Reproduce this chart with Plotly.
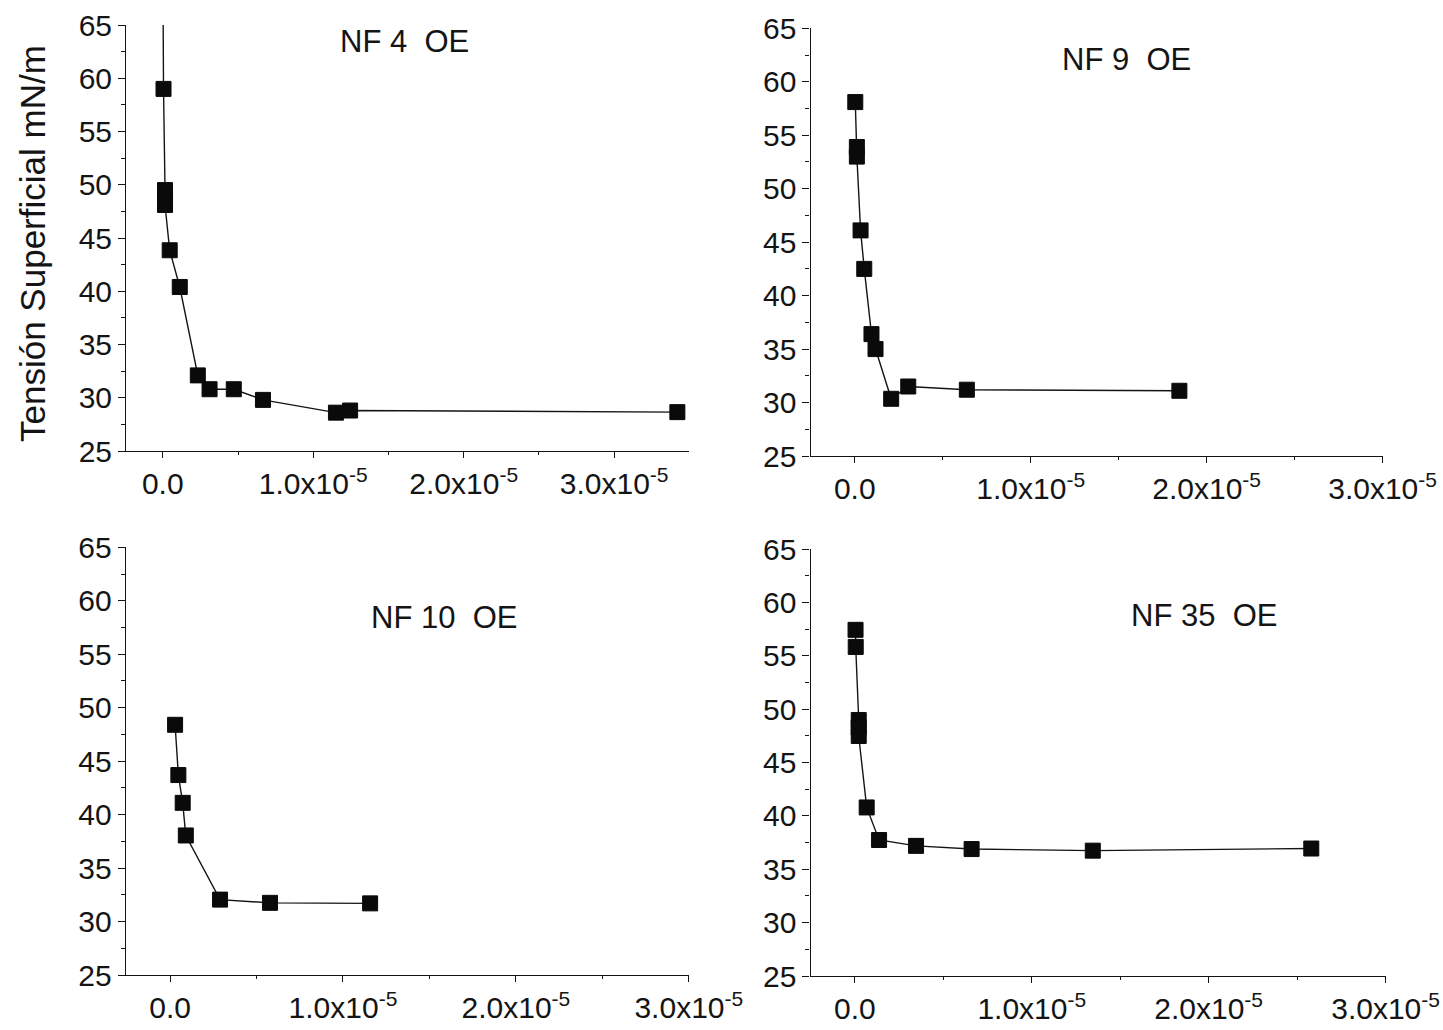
import plotly.graph_objects as go

# Concentration values are stored in units of 1e-5 (mol/L); surface tension in mN/m
UNIT = 1e-5

nf4_conc = [0.0, 0.005, 0.015, 0.015, 0.015, 0.046, 0.113, 0.233, 0.311, 0.472, 0.666, 1.151, 1.245, 3.42]
nf4_tension = [72.0, 59.0, 49.5, 48.8, 48.1, 43.85, 40.4, 32.1, 30.8, 30.8, 29.8, 28.6, 28.8, 28.65]

nf9_conc = [0.003, 0.012, 0.012, 0.033, 0.054, 0.095, 0.118, 0.207, 0.304, 0.637, 1.845]
nf9_tension = [58.1, 53.9, 53.0, 46.1, 42.5, 36.4, 35.0, 30.35, 31.5, 31.2, 31.1]

nf10_conc = [0.029, 0.048, 0.073, 0.091, 0.289, 0.578, 1.157]
nf10_tension = [48.4, 43.7, 41.1, 38.05, 32.05, 31.75, 31.7]

nf35_conc = [0.004, 0.005, 0.022, 0.022, 0.022, 0.067, 0.137, 0.346, 0.66, 1.345, 2.58]
nf35_tension = [57.45, 55.85, 49.0, 48.3, 47.5, 40.8, 37.75, 37.2, 36.9, 36.75, 36.95]

panel_titles = ["NF 4\u00a0 OE", "NF 9\u00a0 OE", "NF 10\u00a0 OE", "NF 35\u00a0 OE"]
x_tick_vals = [0.0, 1.0, 2.0, 3.0]
x_tick_text = ["0.0", "1.0x10<sup>-5</sup>", "2.0x10<sup>-5</sup>", "3.0x10<sup>-5</sup>"]
y_tick_vals = [25, 30, 35, 40, 45, 50, 55, 60, 65]
y_axis_title = "Tensión Superficial mN/m"

W, H = 1443, 1030
FONT = "Arial, 'Liberation Sans', sans-serif"
INK = "#141414"

def px_x(p):
    return p / W

def px_y(p):
    return 1 - p / H

panels = [
    dict(conc=nf4_conc, ten=nf4_tension, xr=[-0.243, 3.494],
         xd=[126.2, 688.5], yd=[451.0, 25.0], title_at=(404, 41)),
    dict(conc=nf9_conc, ten=nf9_tension, xr=[-0.251, 3.0],
         xd=[810.6, 1382.6], yd=[456.0, 28.3], title_at=(1126, 59)),
    dict(conc=nf10_conc, ten=nf10_tension, xr=[-0.256, 3.0],
         xd=[125.8, 688.8], yd=[975.0, 547.3], title_at=(444, 617)),
    dict(conc=nf35_conc, ten=nf35_tension, xr=[-0.25, 3.0],
         xd=[810.6, 1385.6], yd=[976.0, 549.3], title_at=(1204, 615)),
]

fig = go.Figure()
layout = {}
annotations = []

for i, p in enumerate(panels, start=1):
    sfx = "" if i == 1 else str(i)
    xs = [c * UNIT for c in p["conc"]]
    fig.add_trace(go.Scatter(
        x=xs, y=p["ten"], mode="lines+markers",
        xaxis="x" + sfx, yaxis="y" + sfx,
        line=dict(color=INK, width=1.4),
        marker=dict(symbol="square", size=15, color="#0a0a0a",
                    line=dict(color="#0a0a0a", width=1)),
        showlegend=False, hoverinfo="x+y",
    ))
    layout["xaxis" + sfx] = dict(
        domain=[px_x(p["xd"][0]), px_x(p["xd"][1])],
        anchor="y" + sfx, automargin=False,
        range=[p["xr"][0] * UNIT, p["xr"][1] * UNIT],
        tickvals=[v * UNIT for v in x_tick_vals], ticktext=x_tick_text,
        ticks="outside", ticklen=6, tickwidth=1.3, tickcolor=INK,
        minor=dict(dtick=0.5 * UNIT, tick0=0, ticks="outside", ticklen=3,
                   tickwidth=1.2, tickcolor=INK),
        showline=True, linecolor=INK, linewidth=1.4,
        showgrid=False, zeroline=False,
        tickfont=dict(family=FONT, size=30, color=INK),
    )
    layout["yaxis" + sfx] = dict(
        domain=[px_y(p["yd"][0]), px_y(p["yd"][1])],
        anchor="x" + sfx, automargin=False,
        range=[25, 65],
        tickvals=y_tick_vals,
        ticks="outside", ticklen=7, tickwidth=1.3, tickcolor=INK,
        minor=dict(dtick=2.5, tick0=25, ticks="outside", ticklen=4,
                   tickwidth=1.2, tickcolor=INK),
        showline=True, linecolor=INK, linewidth=1.4,
        showgrid=False, zeroline=False,
        tickfont=dict(family=FONT, size=30, color=INK),
    )
    tx, ty = p["title_at"]
    annotations.append(dict(
        text=panel_titles[i - 1], xref="paper", yref="paper",
        x=px_x(tx), y=px_y(ty), xanchor="center", yanchor="middle",
        showarrow=False, font=dict(family=FONT, size=31, color=INK),
    ))

annotations.append(dict(
    text=y_axis_title, xref="paper", yref="paper",
    x=px_x(33), y=px_y(244), xanchor="center", yanchor="middle",
    textangle=-90, showarrow=False,
    font=dict(family=FONT, size=35, color=INK),
))

fig.update_layout(
    width=W, height=H,
    margin=dict(l=0, r=0, t=0, b=0, autoexpand=False),
    paper_bgcolor="white", plot_bgcolor="white",
    annotations=annotations,
    **layout,
)

fig.write_html("out.html")
